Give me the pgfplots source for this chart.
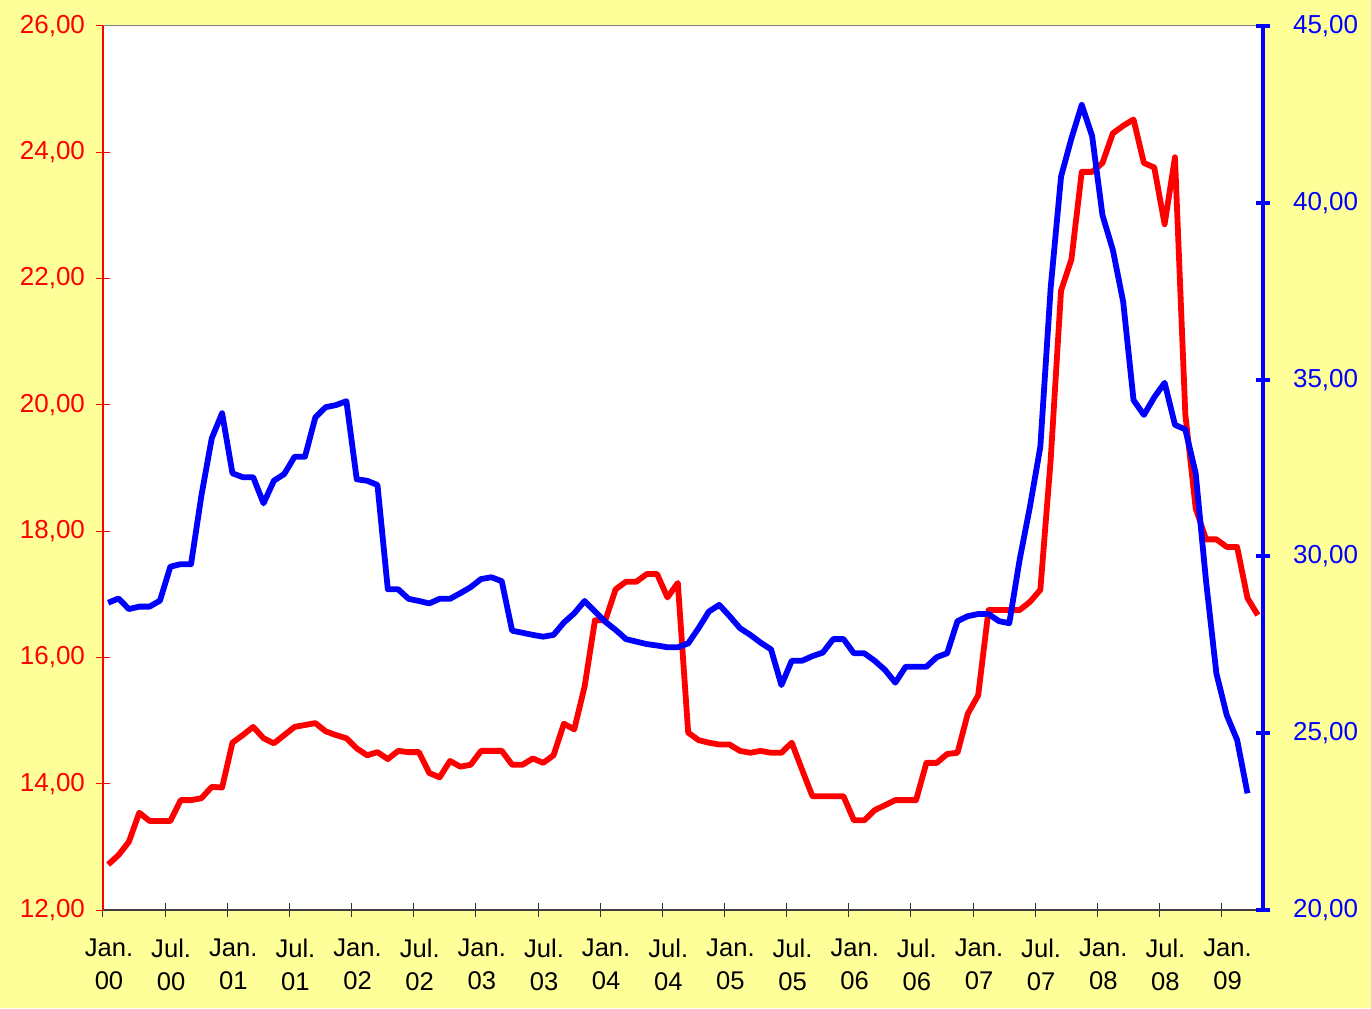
\documentclass[border=0pt]{standalone}
\usepackage{fontspec}
\setmainfont{Liberation Sans}
\usepackage{pgfplots}
\pgfplotsset{compat=1.18}
\usepackage{pgfplotstable}
\definecolor{bgyellow}{RGB}{255,255,153}

% month index (centre of category), value
\pgfplotstableread{
m v
0.5 12.72
1.5 12.87
2.5 13.08
3.5 13.54
4.5 13.41
5.5 13.41
6.5 13.41
7.5 13.74
8.5 13.74
9.5 13.77
10.5 13.95
11.5 13.94
12.5 14.65
13.5 14.77
14.5 14.90
15.5 14.72
16.5 14.64
17.5 14.77
18.5 14.90
19.5 14.93
20.5 14.96
21.5 14.83
22.5 14.77
23.5 14.72
24.5 14.56
25.5 14.45
26.5 14.50
27.5 14.39
28.5 14.52
29.5 14.50
30.5 14.50
31.5 14.17
32.5 14.10
33.5 14.36
34.5 14.27
35.5 14.30
36.5 14.52
37.5 14.52
38.5 14.52
39.5 14.30
40.5 14.30
41.5 14.40
42.5 14.33
43.5 14.45
44.5 14.95
45.5 14.86
46.5 15.54
47.5 16.59
48.5 16.59
49.5 17.08
50.5 17.20
51.5 17.20
52.5 17.32
53.5 17.32
54.5 16.95
55.5 17.18
56.5 14.81
57.5 14.69
58.5 14.65
59.5 14.62
60.5 14.62
61.5 14.52
62.5 14.49
63.5 14.52
64.5 14.49
65.5 14.49
66.5 14.65
67.5 14.22
68.5 13.80
69.5 13.80
70.5 13.80
71.5 13.80
72.5 13.42
73.5 13.42
74.5 13.58
75.5 13.66
76.5 13.74
77.5 13.74
78.5 13.74
79.5 14.33
80.5 14.33
81.5 14.47
82.5 14.49
83.5 15.11
84.5 15.40
85.5 16.75
86.5 16.75
87.5 16.75
88.5 16.75
89.5 16.88
90.5 17.07
91.5 19.13
92.5 21.81
93.5 22.30
94.5 23.69
95.5 23.69
96.5 23.83
97.5 24.30
98.5 24.42
99.5 24.52
100.5 23.83
101.5 23.76
102.5 22.86
103.5 23.92
104.5 19.85
105.5 18.36
106.5 17.87
107.5 17.87
108.5 17.75
109.5 17.75
110.5 16.94
111.5 16.67
}\redtable

\pgfplotstableread{
m v
0.5 28.69
1.5 28.81
2.5 28.51
3.5 28.58
4.5 28.58
5.5 28.75
6.5 29.71
7.5 29.78
8.5 29.78
9.5 31.72
10.5 33.34
11.5 34.05
12.5 32.35
13.5 32.24
14.5 32.24
15.5 31.50
16.5 32.14
17.5 32.33
18.5 32.82
19.5 32.82
20.5 33.93
21.5 34.22
22.5 34.28
23.5 34.39
24.5 32.18
25.5 32.14
26.5 32.02
27.5 29.07
28.5 29.07
29.5 28.80
30.5 28.74
31.5 28.67
32.5 28.80
33.5 28.80
34.5 28.96
35.5 29.13
36.5 29.36
37.5 29.41
38.5 29.30
39.5 27.90
40.5 27.84
41.5 27.78
42.5 27.73
43.5 27.78
44.5 28.13
45.5 28.39
46.5 28.74
47.5 28.44
48.5 28.15
49.5 27.92
50.5 27.66
51.5 27.59
52.5 27.52
53.5 27.48
54.5 27.43
55.5 27.43
56.5 27.54
57.5 27.97
58.5 28.44
59.5 28.63
60.5 28.31
61.5 27.97
62.5 27.78
63.5 27.56
64.5 27.37
65.5 26.36
66.5 27.05
67.5 27.05
68.5 27.18
69.5 27.28
70.5 27.66
71.5 27.66
72.5 27.26
73.5 27.26
74.5 27.05
75.5 26.79
76.5 26.43
77.5 26.88
78.5 26.88
79.5 26.88
80.5 27.15
81.5 27.26
82.5 28.17
83.5 28.31
84.5 28.37
85.5 28.37
86.5 28.17
87.5 28.11
88.5 29.90
89.5 31.41
90.5 33.10
91.5 37.60
92.5 40.74
93.5 41.82
94.5 42.77
95.5 41.89
96.5 39.65
97.5 38.67
98.5 37.20
99.5 34.42
100.5 34.00
101.5 34.50
102.5 34.91
103.5 33.72
104.5 33.59
105.5 32.35
106.5 29.30
107.5 26.69
108.5 25.51
109.5 24.81
110.5 23.30
}\bluetable

\pgfplotsset{
  twin/.style={
    scale only axis, width=580pt, height=442pt,
    at={(0pt,0pt)}, anchor=south west,
    xmin=0, xmax=112,
    tick align=center, major tick length=7pt,
    /pgf/number format/use comma,
    /pgf/number format/fixed,
    /pgf/number format/fixed zerofill,
    /pgf/number format/precision=2,
    /pgf/number format/assume math mode=true,
  },
}

\begin{document}
\begin{tikzpicture}
\path[fill=bgyellow, use as bounding box] (-51.5pt,-49pt) rectangle (634pt,455pt);

\begin{axis}[twin,
  ymin=12, ymax=26,
  axis x line*=bottom, axis y line*=left,
  x axis line style={black!75, line width=0.6pt, -},
  y axis line style={red, line width=0.6pt, -},
  axis background/.style={fill=white},
  xtick={0,6,...,108},
  xticklabels={{Jan.\\00},{Jul.\\00},{Jan.\\01},{Jul.\\01},{Jan.\\02},{Jul.\\02},
    {Jan.\\03},{Jul.\\03},{Jan.\\04},{Jul.\\04},{Jan.\\05},{Jul.\\05},
    {Jan.\\06},{Jul.\\06},{Jan.\\07},{Jul.\\07},{Jan.\\08},{Jul.\\08},{Jan.\\09}},
  xticklabel style={align=center, text=black, font=\fontsize{12.8}{16.2}\selectfont,
    xshift=3pt, yshift=-7.5pt},
  x tick style={black!80, line width=0.5pt},
  ytick={12,14,...,26},
  yticklabel style={red, font=\fontsize{13}{15}\selectfont, xshift=-2pt},
  y tick style={red, line width=0.5pt},
]
\draw[gray, line width=0.5pt] (rel axis cs:0,1) -- (rel axis cs:1,1);
\addplot[red, line width=2.9pt, line join=round, no marks] table {\redtable};
\end{axis}

\begin{axis}[twin,
  ymin=20, ymax=45,
  axis y line*=right, axis x line=none,
  y axis line style={blue, line width=2pt, -},
  ytick={20,25,...,45},
  yticklabel style={blue, font=\fontsize{13}{15}\selectfont, xshift=8pt},
  y tick style={blue, line width=2pt},
]
\addplot[blue, line width=2.9pt, line join=round, no marks] table {\bluetable};
\end{axis}
\end{tikzpicture}
\end{document}
